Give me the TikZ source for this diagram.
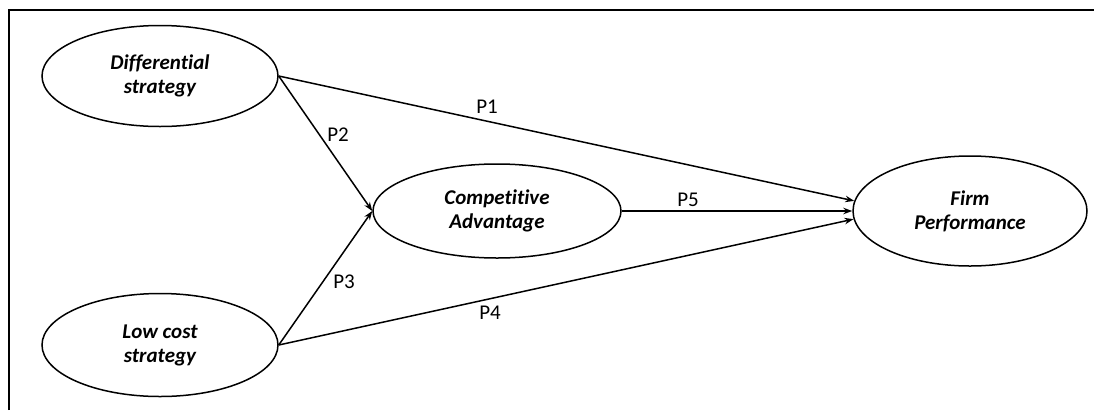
\documentclass[tikz,border=0pt]{standalone}
\usepackage{fontspec}
\setmainfont{Carlito}[Ligatures={NoCommon}]
\usetikzlibrary{shapes.geometric,arrows.meta}
\tikzset{
  construct/.style={draw, line width=1.5pt, ellipse, inner sep=0pt, align=center,
    font=\fontsize{21}{24}\selectfont\bfseries\itshape},
  path/.style={line width=1.5pt, -{Stealth[length=9pt,width=6.5pt]}},
  plabel/.style={font=\fontsize{21}{24}\selectfont, inner sep=0pt},
  frame/.style={line width=2.2pt}
}
\begin{document}
\begin{tikzpicture}[x=1pt,y=-1pt]
\useasboundingbox (0,0) rectangle (1094,410);
\draw[frame] (9,410) -- (9,10) -- (1094,10);
\node[construct, minimum width=236pt, minimum height=101pt] (diff) at (160,76) {Differential\\strategy};
\node[construct, minimum width=236pt, minimum height=103pt] (low) at (160,345) {Low cost\\strategy};
\node[construct, minimum width=248pt, minimum height=94pt] (comp) at (497,211) {Competitive\\Advantage};
\node[construct, minimum width=234pt, minimum height=110pt] (firm) at (970,211) {Firm\\Performance};
\draw[path] (diff.east) -- (firm.175.5);
\draw[path] (diff.east) -- (comp.west);
\draw[path] (low.east) -- (comp.west);
\draw[path] (low.east) -- (firm.184);
\draw[path] (comp.east) -- (firm.west);
\node[plabel] (p1) at (487,107) {P1};
\node[plabel] (p2) at (338,135) {P2};
\node[plabel] (p3) at (344,282) {P3};
\node[plabel] (p4) at (490,313) {P4};
\node[plabel] (p5) at (688,200) {P5};
\end{tikzpicture}
\end{document}
